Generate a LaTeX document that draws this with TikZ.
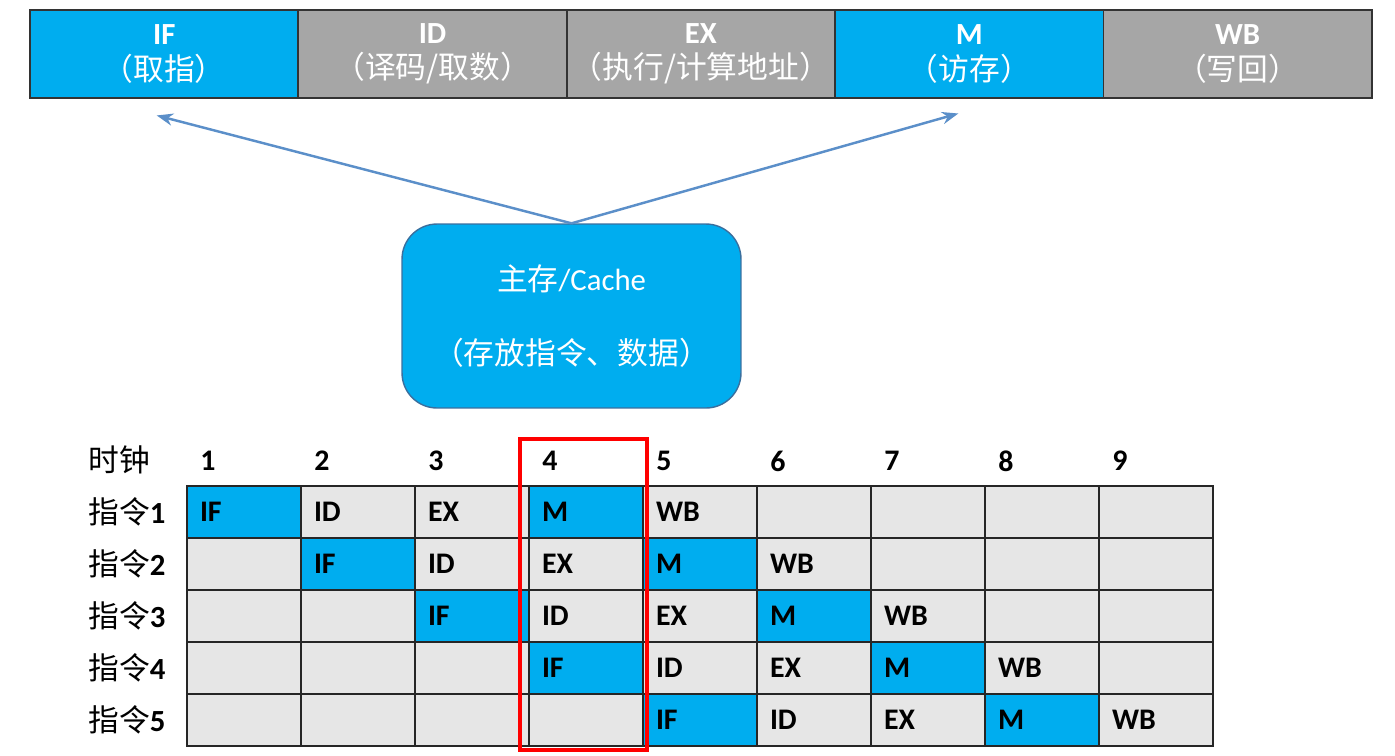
\documentclass[tikz,border=0pt]{standalone}
\usepackage{fontspec}
\setmainfont{Carlito}
\newfontfamily\cjk{Noto Sans CJK SC}
\usetikzlibrary{positioning,arrows.meta}
\definecolor{cyanblue}{HTML}{00ADEF}
\definecolor{stagegray}{HTML}{A6A6A6}
\definecolor{cellgray}{HTML}{E6E6E6}
\definecolor{arrowblue}{HTML}{5B8FC9}
\definecolor{boxline}{HTML}{3A6F9E}
\def\stagename#1{\ifcase#1 IF\or ID\or EX\or M\or WB\fi}

\begin{document}
\begin{tikzpicture}[x=0.02cm, y=-0.02cm, >=Stealth,
  stage/.style={draw=black!80, line width=1pt, outer sep=0pt, inner sep=0pt,
    minimum width=5.368cm, minimum height=1.76cm, text=white, align=center,
    font=\fontsize{17.5}{20}\selectfont},
  cell/.style={draw=black!85, line width=0.8pt, outer sep=0pt, anchor=north west,
    minimum width=2.28cm, minimum height=1.04cm, inner xsep=0.26cm, inner ysep=0pt,
    text width=1.76cm, align=left, font=\fontsize{17}{17}\selectfont\bfseries},
  lbl/.style={anchor=west, inner sep=0pt, font=\fontsize{17}{17}\selectfont\bfseries},
  link/.style={->, arrowblue, line width=1.4pt, shorten >=1pt}]
  \useasboundingbox (0,0) rectangle (1395,755);
  % five stages
  \node[stage, fill=cyanblue] (sif) at (164.2,54) {\textbf{IF}\\{\cjk （取指）}};
  \node[stage, fill=stagegray, right=0pt of sif] (sid) {\textbf{ID}\\{\cjk （译码/取数）}};
  \node[stage, fill=stagegray, right=0pt of sid] (sex) {\textbf{EX}\\{\cjk （执行/计算地址）}};
  \node[stage, fill=cyanblue, right=0pt of sex] (smem) {\textbf{M}\\{\cjk （访存）}};
  \node[stage, fill=stagegray, right=0pt of smem] (swb) {\textbf{WB}\\{\cjk （写回）}};
  % memory
  \node[draw=boxline, line width=0.8pt, fill=cyanblue, rounded corners=0.7cm,
    minimum width=6.78cm, minimum height=3.68cm, text=white, align=center,
    font=\fontsize{17.5}{20}\selectfont] (mem) at (571.5,316)
    {{\cjk 主存}/Cache\\[22pt]{\cjk （存放指令、数据）}};
  \coordinate (ifend) at (155,115);
  \coordinate (memend) at (960,113);
  \draw[link] (mem.north) -- (ifend);
  \draw[link] (mem.north) -- (memend);
  % clock table
  \node[anchor=west, inner sep=0pt, font=\fontsize{17.5}{17}\selectfont] (clk) at (88,460) {\cjk 时钟};
  \foreach \c in {1,...,9}
    \node[lbl] (t\c) at (187+114*\c-114+13,461) {\c};
  \foreach \r in {1,...,5} {
    \node[anchor=west, inner sep=0pt, font=\fontsize{17.5}{17}\selectfont] (i\r) at (88,512+52*\r-52)
      {{\cjk 指令}\textbf{\r}};
    \foreach \c in {1,...,9} {
      \pgfmathtruncatemacro\k{\c-\r}
      \pgfmathtruncatemacro\hot{(\k==0)||(\k==3)}
      \ifnum\hot=1 \def\cellfill{cyanblue}\else\def\cellfill{cellgray}\fi
      \node[cell, fill=\cellfill] (c-\r-\c) at (187+114*\c-114,486+52*\r-52)
        {\ifnum\k<0 \else\stagename{\k}\fi};
    }
  }
  \draw[red, line width=1.8pt] (520,439) rectangle (647,750);
\end{tikzpicture}
\end{document}
